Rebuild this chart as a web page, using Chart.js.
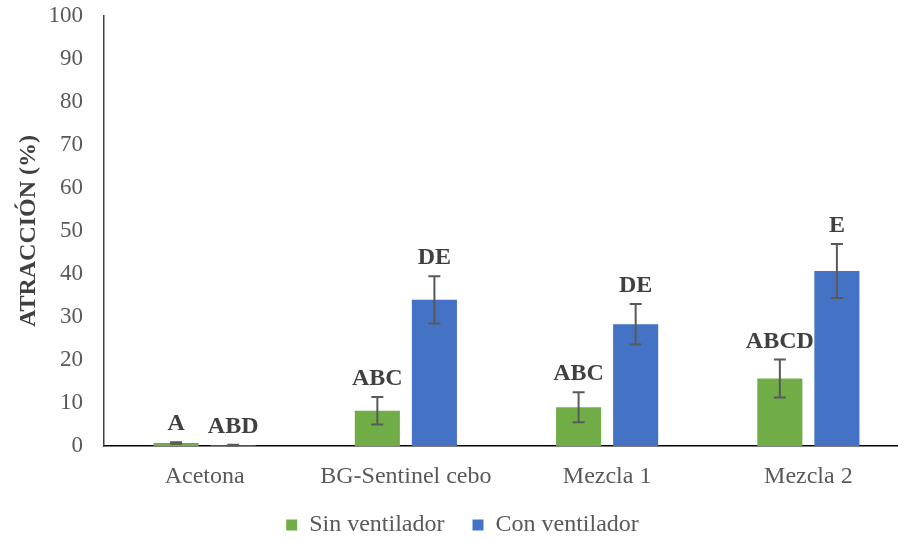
<!DOCTYPE html>
<html>
<head>
<meta charset="utf-8">
<script src="https://cdn.jsdelivr.net/npm/chart.js@4.4.1/dist/chart.umd.min.js"></script>
<style>
  html, body { margin: 0; padding: 0; background: #fff; overflow: hidden; }
  #wrap { width: 898px; height: 540px; overflow: hidden; }
  canvas { display: block; }
</style>
</head>
<body>
<div id="wrap"><canvas id="c" width="909" height="547"></canvas></div>
<script>
// Attraction (%) per bait, with and without fan
const categories = ['Acetona', 'BG-Sentinel cebo', 'Mezcla 1', 'Mezcla 2'];
const sinVentilador = [0.7, 8.2, 9.0, 15.7];
const conVentilador = [0.2, 34.0, 28.3, 40.7];
const sinError = [0.2, 3.2, 3.5, 4.4];
const conError = [0.1, 5.5, 4.7, 6.3];
const sinLetters = ['A', 'ABC', 'ABC', 'ABCD'];
const conLetters = ['ABD', 'DE', 'DE', 'E'];
const yTicks = [0, 10, 20, 30, 40, 50, 60, 70, 80, 90, 100];

const GREEN = '#70AD47';
const BLUE = '#4472C4';
const SERIF = '"Liberation Serif", "Times New Roman", serif';

// Error bars and significance letters, drawn from the dataset values
const errorBarPlugin = {
  id: 'errorBars',
  afterDatasetsDraw(chart) {
    const ctx = chart.ctx;
    const y = chart.scales.y;
    chart.data.datasets.forEach((ds, di) => {
      const meta = chart.getDatasetMeta(di);
      meta.data.forEach((bar, i) => {
        const v = ds.data[i];
        const e = ds.errors[i];
        const yTop = y.getPixelForValue(v + e);
        const yBot = y.getPixelForValue(Math.max(0, v - e));
        const x = bar.x;
        ctx.save();
        ctx.strokeStyle = '#595959';
        ctx.lineWidth = 2;
        ctx.beginPath();
        ctx.moveTo(x, yTop); ctx.lineTo(x, yBot);
        ctx.moveTo(x - 6, yTop); ctx.lineTo(x + 6, yTop);
        ctx.moveTo(x - 6, yBot); ctx.lineTo(x + 6, yBot);
        ctx.stroke();
        ctx.fillStyle = '#404040';
        ctx.font = 'bold 24px ' + SERIF;
        ctx.textAlign = 'center';
        ctx.textBaseline = 'alphabetic';
        ctx.fillText(ds.letters[i], x, yTop - 12);
        ctx.restore();
      });
    });
  }
};

// Nudge the legend block slightly right of the canvas centre
const legendShift = {
  id: 'legendShift',
  afterLayout(chart) {
    if (chart.legend) {
      chart.legend.left += 8;
      chart.legend.right += 8;
    }
  }
};

new Chart(document.getElementById('c'), {
  type: 'bar',
  data: {
    labels: categories,
    datasets: [
      { label: 'Sin ventilador', data: sinVentilador, errors: sinError, letters: sinLetters,
        backgroundColor: GREEN, borderWidth: 0 },
      { label: 'Con ventilador', data: conVentilador, errors: conError, letters: conLetters,
        backgroundColor: BLUE, borderWidth: 0 }
    ]
  },
  options: {
    responsive: false,
    animation: false,
    devicePixelRatio: 1,
    layout: { padding: 0 },
    datasets: { bar: { categoryPercentage: 0.567, barPercentage: 0.79 } },
    plugins: {
      legend: {
        position: 'bottom',
        labels: {
          font: { family: SERIF, size: 24 },
          color: '#595959',
          boxWidth: 11,
          boxHeight: 11,
          padding: 28
        }
      },
      tooltip: { enabled: false }
    },
    scales: {
      x: {
        grid: { display: false, drawTicks: false },
        border: { display: true, color: '#000', width: 1.5 },
        ticks: { font: { family: SERIF, size: 24 }, color: '#595959', padding: 16 },
        afterFit(scale) { scale.height = 39; }
      },
      y: {
        min: 0, max: 100,
        afterBuildTicks(scale) { scale.ticks = yTicks.map(v => ({ value: v })); },
        grid: { display: false, drawTicks: false },
        border: { display: true, color: '#404040', width: 1.5 },
        ticks: { font: { family: SERIF, size: 23 }, color: '#595959', padding: 21 },
        title: {
          display: true, text: 'ATRACCIÓN (%)',
          font: { family: SERIF, size: 24, weight: 'bold' }, color: '#404040',
          padding: { top: 14, bottom: 0 }
        },
        afterFit(scale) {
          scale.width = 104;
          scale.paddingTop = 16;
          scale.paddingBottom = 0;
        }
      }
    }
  },
  plugins: [errorBarPlugin, legendShift]
});
</script>
</body>
</html>
